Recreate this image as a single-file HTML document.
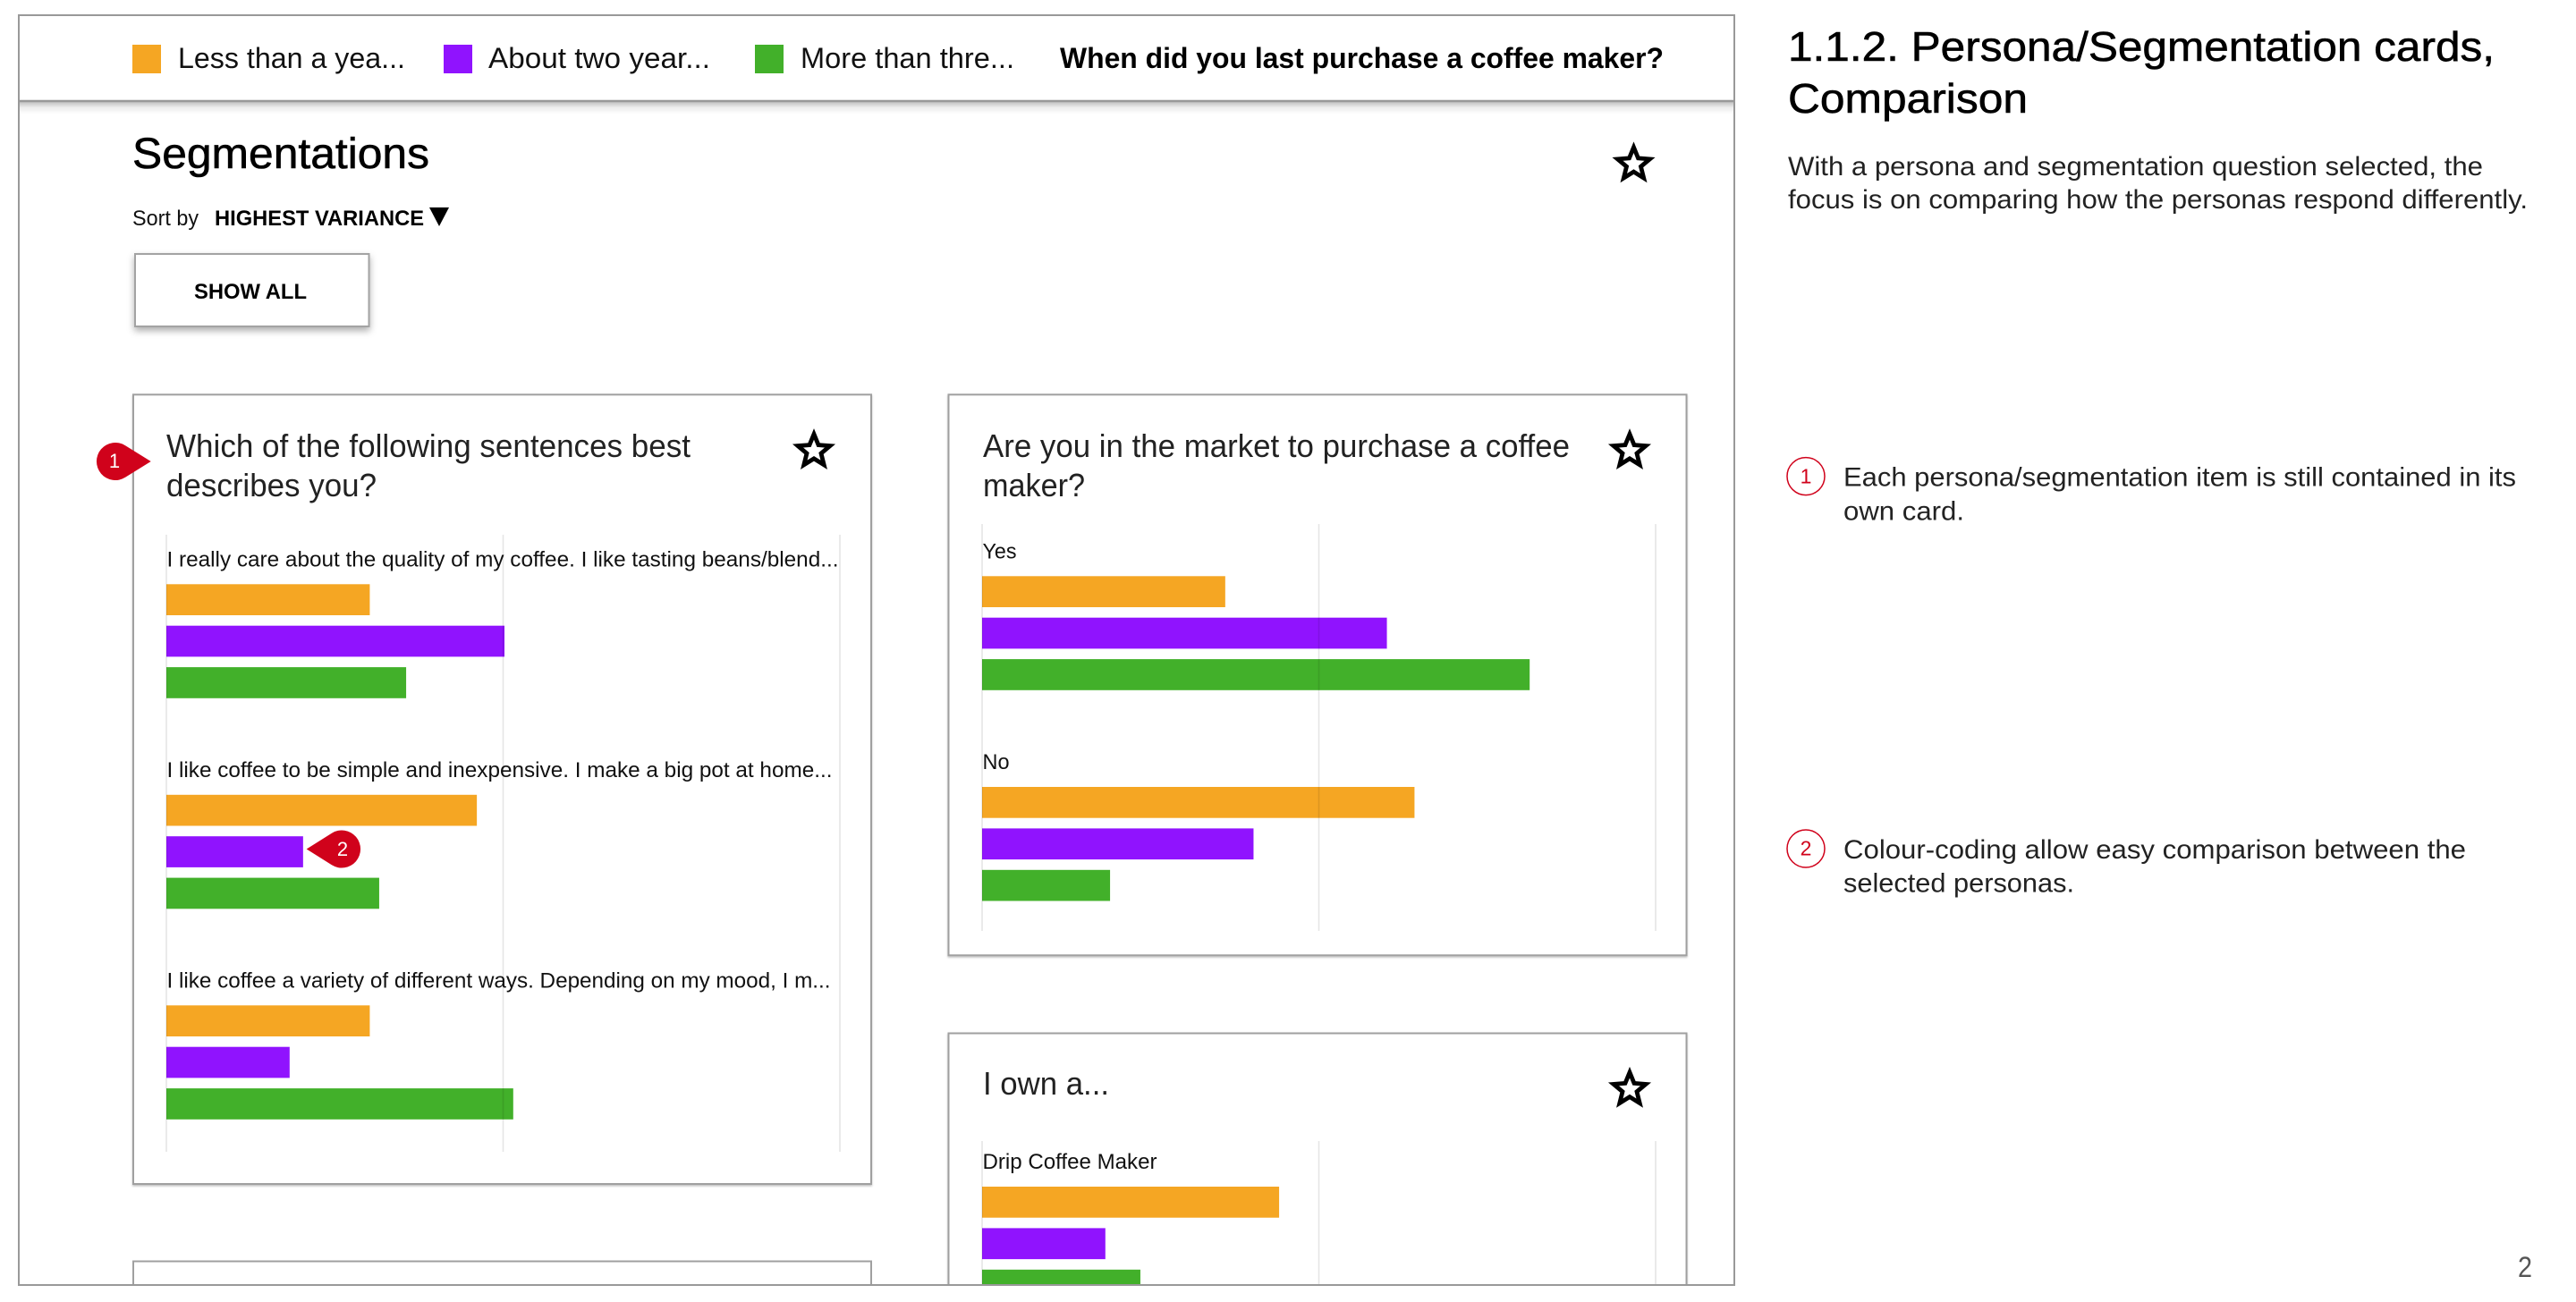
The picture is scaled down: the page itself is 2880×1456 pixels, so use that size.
<!DOCTYPE html>
<html lang="en">
<head>
<meta charset="utf-8">
<title>Persona/Segmentation cards, Comparison</title>
<style>
html,body{margin:0;padding:0;background:#fff;width:2880px;height:1456px;overflow:hidden}
svg{display:block;position:absolute;left:0;top:0}
text{font-family:"Liberation Sans",Arial,sans-serif;fill:#111}
.b{font-weight:700;fill:#000}
.lbl{font-size:24px}
.ttl{font-size:36px;fill:#222}
.note{font-size:30px;fill:#222}
.med{fill:#000;stroke:#000;stroke-width:.6px}
</style>
</head>
<body>
<svg xmlns="http://www.w3.org/2000/svg" width="2880" height="1456" viewBox="0 0 2880 1456">
<defs>
  <clipPath id="frame-clip"><rect x="21" y="18" width="1918" height="1418"/></clipPath>
  <linearGradient id="header-shade" x1="0" y1="0" x2="0" y2="1">
    <stop offset="0" stop-color="#000" stop-opacity=".24"/>
    <stop offset=".45" stop-color="#000" stop-opacity=".07"/>
    <stop offset="1" stop-color="#000" stop-opacity="0"/>
  </linearGradient>
  <filter id="card-shadow" x="-2%" y="-2%" width="104%" height="104%">
    <feDropShadow dx="0" dy="1.5" stdDeviation="1" flood-color="#000" flood-opacity=".25"/>
  </filter>
  <filter id="button-shadow" x="-10%" y="-10%" width="120%" height="135%">
    <feDropShadow dx="0" dy="4" stdDeviation="4" flood-color="#000" flood-opacity=".32"/>
  </filter>
  <symbol id="star-shape" viewBox="-25 -25 50 50" overflow="visible">
    <polygon points="0,-19 5,-6.8 18,-5.8 8,2.6 11.2,15.4 0,8.4 -11.2,15.4 -8,2.6 -18,-5.8 -5,-6.8" fill="#fff" stroke="#000" stroke-width="4.8" stroke-linejoin="miter" stroke-miterlimit="10"/>
  </symbol>
</defs>

<g clip-path="url(#frame-clip)">
  <text class="med" x="148" y="188" font-size="48" textLength="332" lengthAdjust="spacingAndGlyphs">Segmentations</text>
  <use href="#star-shape" x="1801.5" y="158.7" width="50" height="50"/>
  <text x="148" y="252" font-size="24" textLength="74" lengthAdjust="spacingAndGlyphs">Sort by</text>
  <text class="b" x="240" y="252" font-size="24" textLength="234" lengthAdjust="spacingAndGlyphs">HIGHEST VARIANCE</text>
  <polygon points="480,232 502,232 491,253" fill="#000"/>

  <g>
    <rect x="151" y="284" width="261.5" height="81" fill="#fff" stroke="#a3a3a3" stroke-width="2" filter="url(#button-shadow)"/>
    <text class="b" x="217" y="334" font-size="24" textLength="126" lengthAdjust="spacingAndGlyphs">SHOW ALL</text>
  </g>

  <!-- card 1 -->
  <rect x="149" y="441.3" width="825" height="882.7" fill="#fff" stroke="#a0a0a0" stroke-width="2" filter="url(#card-shadow)"/>
  <text class="ttl" x="186" y="511" textLength="586" lengthAdjust="spacingAndGlyphs">Which of the following sentences best</text>
  <text class="ttl" x="186" y="555" textLength="235" lengthAdjust="spacingAndGlyphs">describes you?</text>
  <use href="#star-shape" x="885" y="479.4" width="50" height="50"/>
  <g id="chart-sentences"></g>

  <!-- card 2 -->
  <rect x="1060.5" y="441.3" width="825" height="627" fill="#fff" stroke="#a0a0a0" stroke-width="2" filter="url(#card-shadow)"/>
  <text class="ttl" x="1099" y="511" textLength="656" lengthAdjust="spacingAndGlyphs">Are you in the market to purchase a coffee</text>
  <text class="ttl" x="1099" y="555" textLength="114" lengthAdjust="spacingAndGlyphs">maker?</text>
  <use href="#star-shape" x="1797" y="479.4" width="50" height="50"/>
  <g id="chart-market"></g>

  <!-- card 3 -->
  <rect x="1060.5" y="1155.5" width="825" height="295" fill="#fff" stroke="#a0a0a0" stroke-width="2" filter="url(#card-shadow)"/>
  <text class="ttl" x="1099" y="1224" textLength="141" lengthAdjust="spacingAndGlyphs">I own a...</text>
  <use href="#star-shape" x="1797" y="1193.2" width="50" height="50"/>
  <g id="chart-own"></g>

  <!-- card 4 (cut off) -->
  <rect x="149" y="1410.5" width="825" height="40" fill="#fff" stroke="#a0a0a0" stroke-width="2"/>

  <!-- sticky header -->
  <rect x="21" y="114" width="1918" height="14" fill="url(#header-shade)"/>
  <line x1="20" y1="113" x2="1940" y2="113" stroke="#999" stroke-width="2.5"/>
</g>

<rect x="21" y="17" width="1918" height="1420" fill="none" stroke="#999" stroke-width="2"/>

<g>
  <rect x="148" y="50" width="32" height="32" fill="#F5A623"/>
  <text x="199" y="76" font-size="32" textLength="254" lengthAdjust="spacingAndGlyphs">Less than a yea...</text>
  <rect x="496" y="50" width="32" height="32" fill="#9013FE"/>
  <text x="546" y="76" font-size="32" textLength="248" lengthAdjust="spacingAndGlyphs">About two year...</text>
  <rect x="844" y="50" width="32" height="32" fill="#42B02A"/>
  <text x="895" y="76" font-size="32" textLength="239" lengthAdjust="spacingAndGlyphs">More than thre...</text>
</g>
<text class="b" x="1185" y="76" font-size="32" textLength="675" lengthAdjust="spacingAndGlyphs">When did you last purchase a coffee maker?</text>

<!-- annotation markers -->
<g>
  <path d="M140.1 498.2 L168.7 516 L140.1 533.8 A21 21 0 1 1 140.1 498.2Z" fill="#D0021B"/>
  <text x="128" y="523" font-size="22" text-anchor="middle" style="fill:#fff">1</text>
</g>
<g>
  <path d="M370.9 931.7 L342.7 949.5 L370.9 967.3 A21 21 0 1 0 370.9 931.7Z" fill="#D0021B"/>
  <text x="383" y="957" font-size="22" text-anchor="middle" style="fill:#fff">2</text>
</g>

<!-- side notes -->
<text class="med" x="1999" y="68" font-size="46" textLength="790" lengthAdjust="spacingAndGlyphs">1.1.2. Persona/Segmentation cards,</text>
<text class="med" x="1999" y="126" font-size="46" textLength="268" lengthAdjust="spacingAndGlyphs">Comparison</text>
<text class="note" x="1999" y="196" textLength="777" lengthAdjust="spacingAndGlyphs">With a persona and segmentation question selected, the</text>
<text class="note" x="1999" y="233" textLength="827" lengthAdjust="spacingAndGlyphs">focus is on comparing how the personas respond differently.</text>

<circle cx="2019" cy="532.6" r="21" fill="none" stroke="#D0021B" stroke-width="1.5"/>
<text x="2019" y="540.3" font-size="23" text-anchor="middle" style="fill:#D0021B">1</text>
<text class="note" x="2061" y="543.6" textLength="752" lengthAdjust="spacingAndGlyphs">Each persona/segmentation item is still contained in its</text>
<text class="note" x="2061" y="581.3" textLength="135" lengthAdjust="spacingAndGlyphs">own card.</text>

<circle cx="2019" cy="949" r="21" fill="none" stroke="#D0021B" stroke-width="1.5"/>
<text x="2019" y="956.7" font-size="23" text-anchor="middle" style="fill:#D0021B">2</text>
<text class="note" x="2061" y="960" textLength="696" lengthAdjust="spacingAndGlyphs">Colour-coding allow easy comparison between the</text>
<text class="note" x="2061" y="997.7" textLength="258" lengthAdjust="spacingAndGlyphs">selected personas.</text>

<text x="2815" y="1428" font-size="32" textLength="16" lengthAdjust="spacingAndGlyphs" style="fill:#555">2</text>
</svg>

<script>
const seriesNames = ['Less than a year', 'About two years', 'More than three years'];
const seriesColors = ['#F5A623', '#9013FE', '#42B02A'];
const axisTicks = [0, 50, 100];

const sentenceCategories = [
  'I really care about the quality of my coffee. I like tasting beans/blend...',
  'I like coffee to be simple and inexpensive. I make a big pot at home...',
  'I like coffee a variety of different ways. Depending on my mood, I m...'
];
const sentenceLessThanYear = [30.2, 46.1, 30.2];
const sentenceAboutTwoYears = [50.2, 20.3, 18.3];
const sentenceMoreThanThree = [35.6, 31.6, 51.5];

const marketCategories = ['Yes', 'No'];
const marketLessThanYear = [36.1, 64.2];
const marketAboutTwoYears = [60.1, 40.3];
const marketMoreThanThree = [81.3, 19.0];

const ownCategories = ['Drip Coffee Maker'];
const ownLessThanYear = [44.1];
const ownAboutTwoYears = [18.3];
const ownMoreThanThree = [23.5];

const SVG_NS = 'http://www.w3.org/2000/svg';

function drawChart(groupId, categories, series, frame) {
  const root = document.getElementById(groupId);
  const tickMax = axisTicks[axisTicks.length - 1];
  const xScale = function (v) { return frame.x0 + (v / tickMax) * (frame.x1 - frame.x0); };
  const groupY = function (i) { return frame.firstBarY + i * frame.groupPitch; };
  const barHeight = 34.7;
  const barPitch = 46.4;

  categories.forEach(function (name, i) {
    const label = document.createElementNS(SVG_NS, 'text');
    
    
    label.setAttribute('class', 'lbl');
    label.setAttribute('x', frame.x0 + 0.5);
    label.setAttribute('y', groupY(i) - 20);
    if (frame.labelWidths && frame.labelWidths[i]) {
      label.setAttribute('textLength', frame.labelWidths[i]);
      label.setAttribute('lengthAdjust', 'spacingAndGlyphs');
    }
    label.textContent = name;
    root.appendChild(label);

    series.forEach(function (values, s) {
      const bar = document.createElementNS(SVG_NS, 'rect');
      
      
      bar.setAttribute('x', xScale(0));
      bar.setAttribute('y', groupY(i) + s * barPitch);
      bar.setAttribute('width', xScale(values[i]) - xScale(0));
      bar.setAttribute('height', barHeight);
      bar.setAttribute('fill', seriesColors[s]);
      const tip = document.createElementNS(SVG_NS, 'title');
      tip.textContent = seriesNames[s] + ': ' + values[i] + '%';
      bar.appendChild(tip);
      root.appendChild(bar);
    });
  });

  axisTicks.forEach(function (t) {
    const grid = document.createElementNS(SVG_NS, 'line');
    
    
    grid.setAttribute('x1', xScale(t));
    grid.setAttribute('x2', xScale(t));
    grid.setAttribute('y1', frame.top);
    grid.setAttribute('y2', frame.bottom);
    grid.setAttribute('stroke', '#000');
    grid.setAttribute('stroke-opacity', '0.1');
    grid.setAttribute('stroke-width', '1.6');
    root.appendChild(grid);
  });
}

drawChart('chart-sentences', sentenceCategories,
  [sentenceLessThanYear, sentenceAboutTwoYears, sentenceMoreThanThree],
  { x0: 186, x1: 939, top: 598, bottom: 1288, firstBarY: 653.3, groupPitch: 235.5, labelWidths: [751, 744, 742] });

drawChart('chart-market', marketCategories,
  [marketLessThanYear, marketAboutTwoYears, marketMoreThanThree],
  { x0: 1098, x1: 1851, top: 586, bottom: 1041, firstBarY: 644.3, groupPitch: 235.7, labelWidths: [38, 30] });

drawChart('chart-own', ownCategories,
  [ownLessThanYear, ownAboutTwoYears, ownMoreThanThree],
  { x0: 1098, x1: 1851, top: 1276, bottom: 1445, firstBarY: 1327, groupPitch: 235.5, labelWidths: [195] });
</script>
</body>
</html>
